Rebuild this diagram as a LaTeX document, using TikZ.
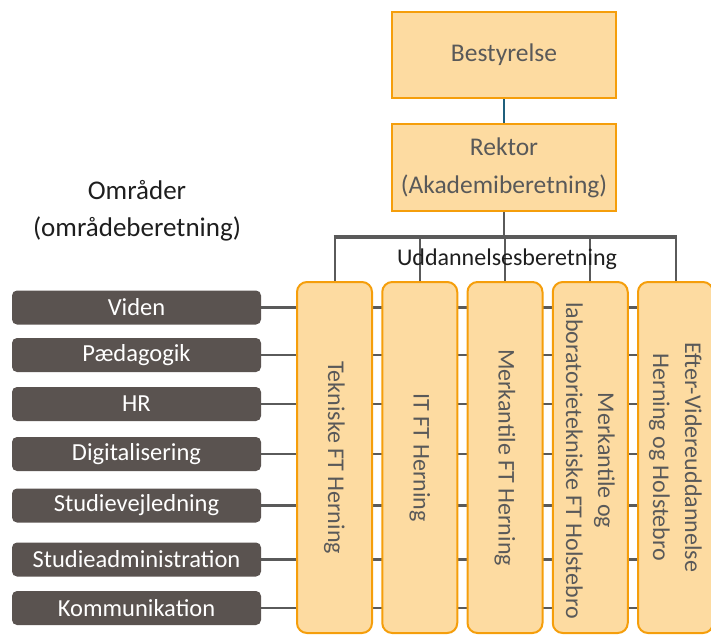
\documentclass[tikz,border=0pt]{standalone}
\usepackage{fontspec}
\setmainfont{Carlito}
\usetikzlibrary{backgrounds}

\definecolor{orfill}{HTML}{FDDBA1}
\definecolor{orline}{HTML}{F59E0B}
\definecolor{areagrey}{HTML}{5A5350}
\definecolor{txtgrey}{HTML}{595959}
\definecolor{linegrey}{HTML}{5A5A5A}
\definecolor{tealline}{HTML}{1F5F7C}
\definecolor{inkdark}{HTML}{1E1E1E}

\begin{document}
\begin{tikzpicture}[x=1pt,y=-1pt,
  topbox/.style={draw=orline, fill=orfill, line width=2pt, minimum width=224pt,
    inner sep=0pt, align=center, text=txtgrey, font=\fontsize{25.5}{38}\selectfont},
  colbox/.style={draw=orline, fill=orfill, line width=2pt, rounded corners=10pt,
    minimum width=75pt, minimum height=351pt, inner sep=0pt},
  coltext/.style={rotate=-90, text=txtgrey, align=center, inner sep=0pt,
    font=\fontsize{24}{32}\selectfont},
  areabox/.style={fill=areagrey, rounded corners=5pt, minimum width=249pt,
    minimum height=34pt, inner sep=0pt, text=white, font=\fontsize{24.5}{28}\selectfont},
  link/.style={draw=linegrey, line width=2.5pt},
  drop/.style={draw=linegrey, line width=2pt},
  bus/.style={draw=linegrey, line width=4pt},
  heading/.style={text=inkdark, align=center, inner sep=0pt}
]
\useasboundingbox (0,0) rectangle (711,634);

% board and rector
\node[topbox, minimum height=86pt] (best) at (504,55) {Bestyrelse};
\node[topbox, minimum height=87pt] (rekt) at (504,167.5) {Rektor\\(Akademiberetning)};
\draw[tealline, line width=2.5pt] (best.south) -- (rekt.north);

% area heading
\node[heading, font=\fontsize{27}{37}\selectfont] (omr) at (137,211) {Områder\\(områdeberetning)};

% education columns
\node[colbox] (c1) at (334.5,457.5) {};
\node[colbox] (c2) at (419.75,457.5) {};
\node[colbox] (c3) at (505,457.5) {};
\node[colbox] (c4) at (590.25,457.5) {};
\node[colbox] (c5) at (675.5,457.5) {};

\node[coltext] (t1) at (c1) {Tekniske FT Herning};
\node[coltext] (t2) at (c2) {IT FT Herning};
\node[coltext] (t3) at (c3) {Merkantile FT Herning};
\node[coltext] (t4) at ([yshift=-3pt]c4) {Merkantile og\\laboratorietekniske FT Holstebro};
\node[coltext] (t5) at (c5) {Efter-Videreuddannelse\\Herning og Holstebro};

% area boxes
\node[areabox] (a1) at (136.5,307.5) {Viden};
\node[areabox] (a2) at (136.5,355) {Pædagogik};
\node[areabox] (a3) at (136.5,404) {HR};
\node[areabox] (a4) at (136.5,454) {Digitalisering};
\node[areabox] (a5) at (136.5,505.5) {Studievejledning};
\node[areabox] (a6) at (136.5,559.5) {Studieadministration};
\node[areabox] (a7) at (136.5,608) {Kommunikation};

% reporting lines
\coordinate (busL) at (334.5,237);
\coordinate (busR) at (675.5,237);
\begin{scope}[on background layer]
  \foreach \a in {a1,a2,a3,a4,a5,a6,a7}
    \draw[link] (\a.east) -- (\a.east -| c5.west);
  \foreach \c in {c1,c2,c3,c4,c5}
    \draw[drop] (\c.north) -- (\c.north |- busL);
  \draw[drop] (rekt.south) -- (rekt.south |- busL);
  \draw[bus] ([xshift=-1pt]busL) -- ([xshift=1pt]busR);
\end{scope}

\node[heading, font=\fontsize{24}{29}\selectfont] (udd) at (507,259) {Uddannelsesberetning};
\end{tikzpicture}
\end{document}
